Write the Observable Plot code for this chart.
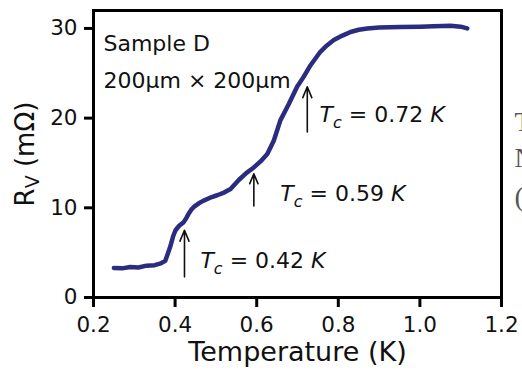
<!DOCTYPE html>
<html>
<head>
<meta charset="utf-8">
<script src="https://cdn.jsdelivr.net/npm/d3@7"></script>
<script src="https://cdn.jsdelivr.net/npm/@observablehq/plot@0.6"></script>
<style>
  html, body { margin: 0; padding: 0; background: #fff; }
  #chart { width: 522px; height: 372px; overflow: hidden; }
</style>
</head>
<body>
<div id="chart"></div>
<script>
// Curve R_V(T)
const temperature = [0.25, 0.27, 0.29, 0.31, 0.33, 0.35, 0.365, 0.376, 0.383, 0.389, 0.395, 0.401, 0.41, 0.421, 0.428, 0.434, 0.44, 0.446, 0.458, 0.47, 0.49, 0.503, 0.52, 0.536, 0.556, 0.575, 0.593, 0.61, 0.626, 0.642, 0.658, 0.679, 0.699, 0.715, 0.732, 0.748, 0.756, 0.772, 0.789, 0.81, 0.83, 0.85, 0.871, 0.9, 0.952, 1.0, 1.034, 1.075, 1.1, 1.116];
const resistance = [3.3, 3.25, 3.4, 3.35, 3.55, 3.6, 3.8, 4.1, 5.0, 5.8, 6.8, 7.5, 8.0, 8.4, 8.9, 9.4, 9.8, 10.1, 10.5, 10.8, 11.2, 11.4, 11.7, 12.1, 13.1, 13.9, 14.5, 15.2, 16.0, 17.5, 19.75, 21.6, 23.5, 24.6, 25.9, 26.9, 27.4, 28.1, 28.7, 29.2, 29.6, 29.85, 30.0, 30.1, 30.15, 30.2, 30.25, 30.3, 30.2, 30.0];

// Tc arrows and labels
const tcValues = [0.423, 0.593, 0.724];
const arrowFrom = [2.3, 10.2, 18.45];
const arrowTo = [7.5, 13.8, 23.5];
const tcLabels = ["Tc = 0.42 K", "Tc = 0.59 K", "Tc = 0.72 K"];
const tcLabelX = [0.462, 0.658, 0.754];
const tcLabelY = [4.13, 11.57, 20.3];

// Sample annotation
const noteLines = ["Sample D", "200μm × 200μm"];
const noteX = [0.2245, 0.2245];
const noteY = [28.24, 24.15];

// Axis ticks
const xTicks = [0.2, 0.4, 0.6, 0.8, 1.0, 1.2];
const yTicks = [0, 10, 20, 30];
const xLabel = "Temperature (K)";
const yLabel = "RV (mΩ)";

// Clipped text from a neighbouring panel at right edge
const edgeChars = ["T", "N", "("];
const edgeX = [1.232, 1.232, 1.232];
const edgeY = [19.6, 15.6, 11.2];

const curve = temperature.map((t, i) => ({t, r: resistance[i]}));
const arrows = tcValues.map((x, i) => ({x, y1: arrowFrom[i], y2: arrowTo[i]}));
const tcData = tcLabels.map((s, i) => ({s, x: tcLabelX[i], y: tcLabelY[i]}));
const notes = noteLines.map((s, i) => ({s, x: noteX[i], y: noteY[i]}));
const edges = edgeChars.map((s, i) => ({s, x: edgeX[i], y: edgeY[i]}));

const plot = Plot.plot({
  width: 522,
  height: 372,
  marginLeft: 93,
  marginRight: 21,
  marginTop: 10,
  marginBottom: 75,
  style: {fontFamily: "'DejaVu Sans', sans-serif", background: "#fff", color: "#000", overflow: "visible"},
  x: {domain: [0.2, 1.2]},
  y: {domain: [0, 32]},
  marks: [
    Plot.axisX({ticks: xTicks, tickFormat: d => d.toFixed(1), tickSize: 10, tickPadding: 9, strokeWidth: 3, fontSize: 21.5, label: null, fill: "#111"}),
    Plot.axisY({ticks: yTicks, tickFormat: d => String(d), tickSize: 9, tickPadding: 7, strokeWidth: 3, fontSize: 21.5, label: null, fill: "#111"}),
    Plot.frame({stroke: "#000", strokeWidth: 3}),
    Plot.line(curve, {x: "t", y: "r", stroke: "#2a2c80", strokeWidth: 4.5, strokeLinejoin: "round", strokeLinecap: "round"}),
    Plot.arrow(arrows, {x1: "x", y1: "y1", x2: "x", y2: "y2", stroke: "#111", strokeWidth: 1.6, headLength: 11, headAngle: 45}),
    Plot.text(tcData, {x: "x", y: "y", text: "s", textAnchor: "start", fontSize: 22, fill: "#111"}),
    Plot.text(notes, {x: "x", y: "y", text: "s", textAnchor: "start", fontSize: 22, fill: "#111"}),
    Plot.text([xLabel], {frameAnchor: "bottom", textAnchor: "middle", dy: 63, fontSize: 27, fill: "#111"}),
    Plot.text([yLabel], {frameAnchor: "left", textAnchor: "middle", rotate: -90, dx: -68, fontSize: 26, fill: "#111"}),
    Plot.text(edges, {x: "x", y: "y", text: "s", textAnchor: "start", fontSize: 28, fill: "#555", fontFamily: "'Liberation Serif', serif", clip: false})
  ]
});

document.getElementById("chart").appendChild(plot);

// Subscripts / italics
d3.select(plot).selectAll("text").each(function() {
  const t = this.textContent;
  const m = /^Tc = (.*) K$/.exec(t);
  if (m) {
    const sel = d3.select(this);
    sel.text("");
    sel.append("tspan").attr("font-style", "italic").text("T");
    sel.append("tspan").attr("font-style", "italic").attr("font-size", "16").attr("dy", "6").text("c");
    sel.append("tspan").attr("dy", "-6").text(" = " + m[1] + " ");
    sel.append("tspan").attr("font-style", "italic").text("K");
  } else if (t === yLabel) {
    const sel = d3.select(this);
    sel.text("");
    sel.append("tspan").text("R");
    sel.append("tspan").attr("font-size", "19").attr("dy", "5").text("V");
    sel.append("tspan").attr("dy", "-5").text(" (mΩ)");
  }
});
</script>
</body>
</html>
